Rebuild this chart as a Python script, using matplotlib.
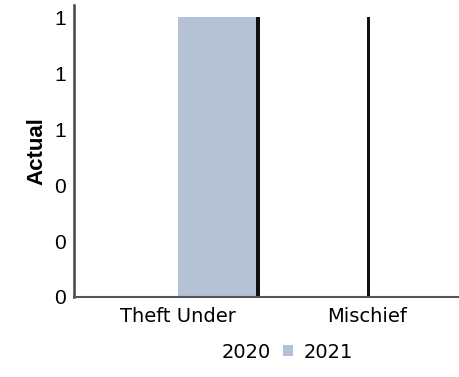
import matplotlib
matplotlib.use("Agg")
import matplotlib.pyplot as plt
import numpy as np
from matplotlib.ticker import FuncFormatter

categories = ["Theft Under", "Mischief"]
series_names = ["2020", "2021"]
values_2020 = [0, 1]
values_2021 = [1, 0]
y_ticks = [0, 0.2, 0.4, 0.6, 0.8, 1.0]

colors = ["#ffffff", "#b5c2d6"]

fig = plt.figure(figsize=(4.59, 3.77), dpi=100)
ax = fig.add_axes([74/459, 80/377, 385/459, 292/377])

x = np.arange(len(categories))
w = 0.415
shadow = 0.02
for i, (vals, name, col) in enumerate(zip([values_2020, values_2021], series_names, colors)):
    pos = x + (i - 0.5) * w
    ax.bar(pos + shadow, vals, w, color="#111111", zorder=1)
    ax.bar(pos, vals, w, color=col, zorder=2, label=name)

ax.set_xlim(-0.553, 1.49)
ax.set_ylim(0, 1.043)
ax.set_yticks(y_ticks)
ax.yaxis.set_major_formatter(FuncFormatter(lambda v, p: f"{v:.0f}"))
ax.set_xticks(x)
ax.set_xticklabels(categories)
ax.tick_params(axis="both", length=0, labelsize=14)
ax.tick_params(axis="y", pad=6)
ax.tick_params(axis="x", pad=7)
for lab in ax.get_yticklabels():
    lab.set_fontfamily("Liberation Sans")
    lab.set_fontsize(15)
ax.set_ylabel("Actual", fontsize=16, fontweight="bold", family="Liberation Sans", labelpad=5)

for s in ["top", "right"]:
    ax.spines[s].set_visible(False)
ax.spines["left"].set_color("#444444")
ax.spines["left"].set_linewidth(1.8)
ax.spines["bottom"].set_color("#555555")
ax.spines["bottom"].set_linewidth(1.5)

handles, labels = ax.get_legend_handles_labels()
leg = fig.legend(handles, labels, loc="center", bbox_to_anchor=(277/459, 1 - 352/377),
                 ncol=2, frameon=False, fontsize=14, handlelength=0.55, handleheight=0.55,
                 columnspacing=0.6, handletextpad=0.5)

fig.savefig("out.png", dpi=100)
